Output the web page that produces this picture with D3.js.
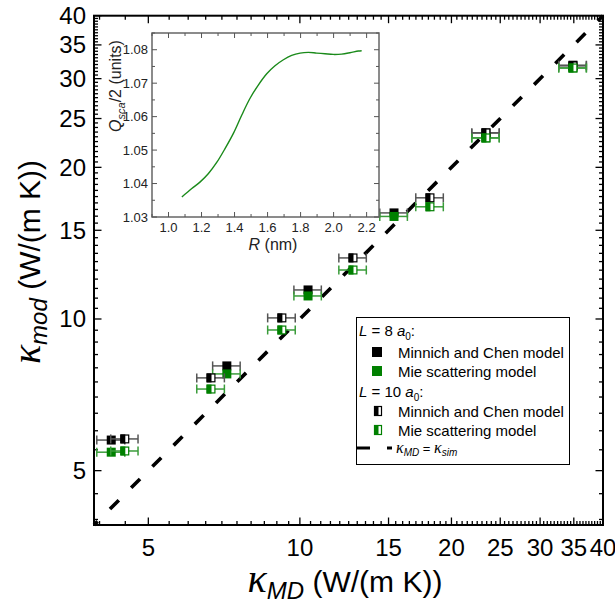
<!DOCTYPE html>
<html><head><meta charset="utf-8">
<script src="https://cdn.jsdelivr.net/npm/d3@7"></script>
<style>
body{margin:0;background:#fff;}
text{font-family:"Liberation Sans",Arial,sans-serif;}
tspan.kap{font-family:"Liberation Serif","Times New Roman",serif;font-style:italic;}
</style></head>
<body><svg id="c" width="615" height="603"></svg>
<script>
// ---------- data ----------
const majorTicks = [5, 10, 15, 20, 25, 30, 35, 40];
// L = 8 a0 (solid markers)
const kMD_L8 = [4.22, 7.16, 10.38, 15.38, 23.42, 34.87];
const kMD_L8_err = [0.27, 0.45, 0.65, 0.97, 1.47, 2.2];
const mc_L8 = [5.75, 8.07, 11.42, 16.24, 23.41, 31.9];
const mie_L8 = [5.44, 7.78, 11.11, 15.98, 22.88, 31.5];
// L = 10 a0 (half-filled markers)
const kMD_L10 = [4.49, 6.66, 9.21, 12.75, 18.13, 23.42, 34.87];
const kMD_L10_err = [0.28, 0.42, 0.58, 0.8, 1.14, 1.47, 2.2];
const mc_L10 = [5.78, 7.64, 10.05, 13.22, 17.40, 23.41, 31.8];
const mie_L10 = [5.47, 7.26, 9.51, 12.51, 16.70, 22.88, 31.5];
// inset: Mie scattering efficiency
const insetR = [1.081,1.141,1.192,1.242,1.292,1.343,1.393,1.444,1.494,1.545,1.595,1.645,1.696,1.746,1.797,1.847,1.897,1.948,1.998,2.049,2.099,2.150,2.17];
const insetQ = [1.036,1.0385,1.0405,1.043,1.0463,1.0505,1.055,1.0605,1.0655,1.0695,1.0728,1.0752,1.077,1.0783,1.079,1.0792,1.079,1.0788,1.0786,1.0787,1.0791,1.0796,1.0797];
const insetXTicks = [1.0, 1.2, 1.4, 1.6, 1.8, 2.0, 2.2];
const insetYTicks = [1.03, 1.04, 1.05, 1.06, 1.07, 1.08];

const GREEN = "#008000", GREEN_BAR = "#3a9c3a", BLACK_BAR = "#555";

const svg = d3.select("#c");
const L = 94, R = 603, T = 15.7, B = 525;
const x = d3.scaleLog().domain([3.9, 40]).range([L, R]);
const y = d3.scaleLog().domain([3.9, 40]).range([B, T]);

// minor ticks every 0.5
const minor = d3.range(4, 40, 0.5).filter(v => !majorTicks.includes(v));

const g = svg.append("g");
// frame
g.append("rect").attr("x", L).attr("y", T).attr("width", R - L).attr("height", B - T)
  .attr("fill", "none").attr("stroke", "#000").attr("stroke-width", 2);

function ticks(vals, len) {
  vals.forEach(v => {
    const px = x(v), py = y(v);
    g.append("line").attr("x1", px).attr("x2", px).attr("y1", B).attr("y2", B - len).attr("stroke", "#000").attr("stroke-width", 1.3);
    g.append("line").attr("x1", px).attr("x2", px).attr("y1", T).attr("y2", T + len).attr("stroke", "#000").attr("stroke-width", 1.3);
    g.append("line").attr("y1", py).attr("y2", py).attr("x1", L).attr("x2", L + len).attr("stroke", "#000").attr("stroke-width", 1.3);
    g.append("line").attr("y1", py).attr("y2", py).attr("x1", R).attr("x2", R - len).attr("stroke", "#000").attr("stroke-width", 1.3);
  });
}
ticks(minor, 4);
ticks(majorTicks, 7.5);

majorTicks.forEach(v => {
  g.append("text").attr("x", x(v)).attr("y", 556).attr("text-anchor", "middle")
    .attr("font-size", 24).text(v);
  g.append("text").attr("x", 86).attr("y", y(v) + 8.5).attr("text-anchor", "end")
    .attr("font-size", 24).text(v);
});

// axis titles
const xt = g.append("text").attr("x", 345).attr("y", 592).attr("text-anchor", "middle").attr("font-size", 30);
xt.append("tspan").attr("class", "kap").attr("font-size", 40).text("κ");
xt.append("tspan").attr("font-style", "italic").attr("font-size", 24).attr("dy", 7).text("MD");
xt.append("tspan").attr("dy", -7).text(" (W/(m K))");

const yt = g.append("text").attr("transform", "translate(40,262) rotate(-90)").attr("text-anchor", "middle").attr("font-size", 30);
yt.append("tspan").attr("class", "kap").attr("font-size", 40).text("κ");
yt.append("tspan").attr("font-style", "italic").attr("font-size", 24).attr("dy", 7).text("mod");
yt.append("tspan").attr("dy", -7).text(" (W/(m K))");

// dashed y = x line
g.append("line").attr("x1", x(3.9)).attr("y1", y(3.9)).attr("x2", x(40)).attr("y2", y(40))
  .attr("stroke", "#000").attr("stroke-width", 3.6)
  .attr("stroke-dasharray", "12.5,17.5").attr("stroke-dashoffset", 7.4);

// markers
const S = 9;
function errbars(xs, errs, ys, col) {
  xs.forEach((v, i) => {
    const x0 = x(v - errs[i]), x1 = x(v + errs[i]), py = y(ys[i]);
    g.append("line").attr("x1", x0).attr("x2", x1).attr("y1", py).attr("y2", py).attr("stroke", col).attr("stroke-width", 1.5);
    [x0, x1].forEach(px => g.append("line").attr("x1", px).attr("x2", px).attr("y1", py - 4.5).attr("y2", py + 4.5).attr("stroke", col).attr("stroke-width", 1.5));
  });
}
function solid(xs, ys, col) {
  xs.forEach((v, i) => {
    g.append("rect").attr("x", x(v) - S / 2).attr("y", y(ys[i]) - S / 2).attr("width", S).attr("height", S).attr("fill", col);
  });
}
function half(xs, ys, col) {
  xs.forEach((v, i) => {
    const px = x(v), py = y(ys[i]);
    g.append("rect").attr("x", px - S / 2 + 0.6).attr("y", py - S / 2 + 0.6).attr("width", S - 1.2).attr("height", S - 1.2).attr("fill", "#fff").attr("stroke", col).attr("stroke-width", 1.2);
    g.append("rect").attr("x", px - S / 2).attr("y", py - S / 2).attr("width", S / 2 + 0.5).attr("height", S).attr("fill", col);
  });
}
errbars(kMD_L8, kMD_L8_err, mc_L8, BLACK_BAR);
solid(kMD_L8, mc_L8, "#000");
errbars(kMD_L8, kMD_L8_err, mie_L8, GREEN_BAR);
solid(kMD_L8, mie_L8, GREEN);
errbars(kMD_L10, kMD_L10_err, mc_L10, BLACK_BAR);
half(kMD_L10, mc_L10, "#000");
errbars(kMD_L10, kMD_L10_err, mie_L10, GREEN_BAR);
half(kMD_L10, mie_L10, GREEN);

// legend
const lg = svg.append("g");
lg.append("rect").attr("x", 356.5).attr("y", 317.5).attr("width", 213).attr("height", 147).attr("fill", "#fff").attr("stroke", "#000").attr("stroke-width", 1);
function header(yy, num) {
  const t = lg.append("text").attr("x", 359).attr("y", yy).attr("font-size", 15);
  t.append("tspan").attr("font-style", "italic").text("L");
  t.append("tspan").text(" = " + num + " ");
  t.append("tspan").attr("font-style", "italic").text("a");
  t.append("tspan").attr("font-size", 10).attr("dy", 4).text("0");
  t.append("tspan").attr("dy", -4).text(":");
}
header(336, 8);
header(397, 10);
const rows = [
  {yy: 352, text: "Minnich and Chen model", col: "#000", half: false},
  {yy: 371, text: "Mie scattering model", col: GREEN, half: false},
  {yy: 411, text: "Minnich and Chen model", col: "#000", half: true},
  {yy: 430, text: "Mie scattering model", col: GREEN, half: true}
];
rows.forEach(r => {
  if (r.half) {
    lg.append("rect").attr("x", 374.5).attr("y", r.yy - 4.5).attr("width", 7).attr("height", 9).attr("fill", "#fff").attr("stroke", r.col).attr("stroke-width", 1.2);
    lg.append("rect").attr("x", 374).attr("y", r.yy - 5).attr("width", 4.5).attr("height", 10).attr("fill", r.col);
  } else {
    lg.append("rect").attr("x", 372).attr("y", r.yy - 5).attr("width", 10).attr("height", 10).attr("fill", r.col);
  }
  lg.append("text").attr("x", 398).attr("y", r.yy + 5.5).attr("font-size", 15).text(r.text);
});
lg.append("line").attr("x1", 357).attr("x2", 392).attr("y1", 448).attr("y2", 448).attr("stroke", "#000").attr("stroke-width", 3.2).attr("stroke-dasharray", "13,17");
const lt = lg.append("text").attr("x", 396).attr("y", 453).attr("font-size", 13);
lt.append("tspan").attr("class", "kap").attr("font-size", 16).text("κ");
lt.append("tspan").attr("font-style", "italic").attr("font-size", 10).attr("dy", 3).text("MD");
lt.append("tspan").attr("dy", -3).text(" = ");
lt.append("tspan").attr("class", "kap").attr("font-size", 16).text("κ");
lt.append("tspan").attr("font-style", "italic").attr("font-size", 10).attr("dy", 3).text("sim");

// inset
const iL = 152, iR = 379, iT = 33, iB = 217;
const ix = d3.scaleLinear().domain([0.9, 2.275]).range([iL, iR]);
const iy = d3.scaleLinear().domain([1.03, 1.085]).range([iB, iT]);
const ig = svg.append("g");
ig.append("rect").attr("x", iL).attr("y", iT).attr("width", iR - iL).attr("height", iB - iT).attr("fill", "#fff").attr("stroke", "#666").attr("stroke-width", 1.5);
const GREY = "#555";
d3.range(0.9, 2.28, 0.1).forEach(v => {
  const isMaj = insetXTicks.some(t => Math.abs(t - v) < 1e-6);
  ig.append("line").attr("x1", ix(v)).attr("x2", ix(v)).attr("y1", iB).attr("y2", iB - (isMaj ? 5 : 3)).attr("stroke", GREY).attr("stroke-width", 1);
  ig.append("line").attr("x1", ix(v)).attr("x2", ix(v)).attr("y1", iT).attr("y2", iT + (isMaj ? 5 : 3)).attr("stroke", GREY).attr("stroke-width", 1);
});
d3.range(1.03, 1.0851, 0.005).forEach(v => {
  const isMaj = insetYTicks.some(t => Math.abs(t - v) < 1e-6);
  ig.append("line").attr("y1", iy(v)).attr("y2", iy(v)).attr("x1", iL).attr("x2", iL + (isMaj ? 5 : 3)).attr("stroke", GREY).attr("stroke-width", 1);
  ig.append("line").attr("y1", iy(v)).attr("y2", iy(v)).attr("x1", iR).attr("x2", iR - (isMaj ? 5 : 3)).attr("stroke", GREY).attr("stroke-width", 1);
});
insetXTicks.forEach(v => ig.append("text").attr("x", ix(v)).attr("y", 232).attr("text-anchor", "middle").attr("font-size", 13).attr("fill", "#222").text(v.toFixed(1)));
insetYTicks.forEach(v => ig.append("text").attr("x", 148).attr("y", iy(v) + 4.5).attr("text-anchor", "end").attr("font-size", 13).attr("fill", "#222").text(v.toFixed(2)));
const rx = ig.append("text").attr("x", 273).attr("y", 250).attr("text-anchor", "middle").attr("font-size", 16).attr("fill", "#222");
rx.append("tspan").attr("font-style", "italic").text("R");
rx.append("tspan").text(" (nm)");
const qy = ig.append("text").attr("transform", "translate(121,86) rotate(-90)").attr("text-anchor", "middle").attr("font-size", 16).attr("fill", "#222");
qy.append("tspan").attr("font-style", "italic").text("Q");
qy.append("tspan").attr("font-style", "italic").attr("font-size", 11).attr("dy", 4).text("sca");
qy.append("tspan").attr("dy", -4).text("/2 (units)");
const pts = insetR.map((r, i) => [ix(r), iy(insetQ[i])]);
ig.append("path").attr("d", d3.line().curve(d3.curveCatmullRom)(pts)).attr("fill", "none").attr("stroke", "#1a8a1a").attr("stroke-width", 1.4);
</script></body></html>
